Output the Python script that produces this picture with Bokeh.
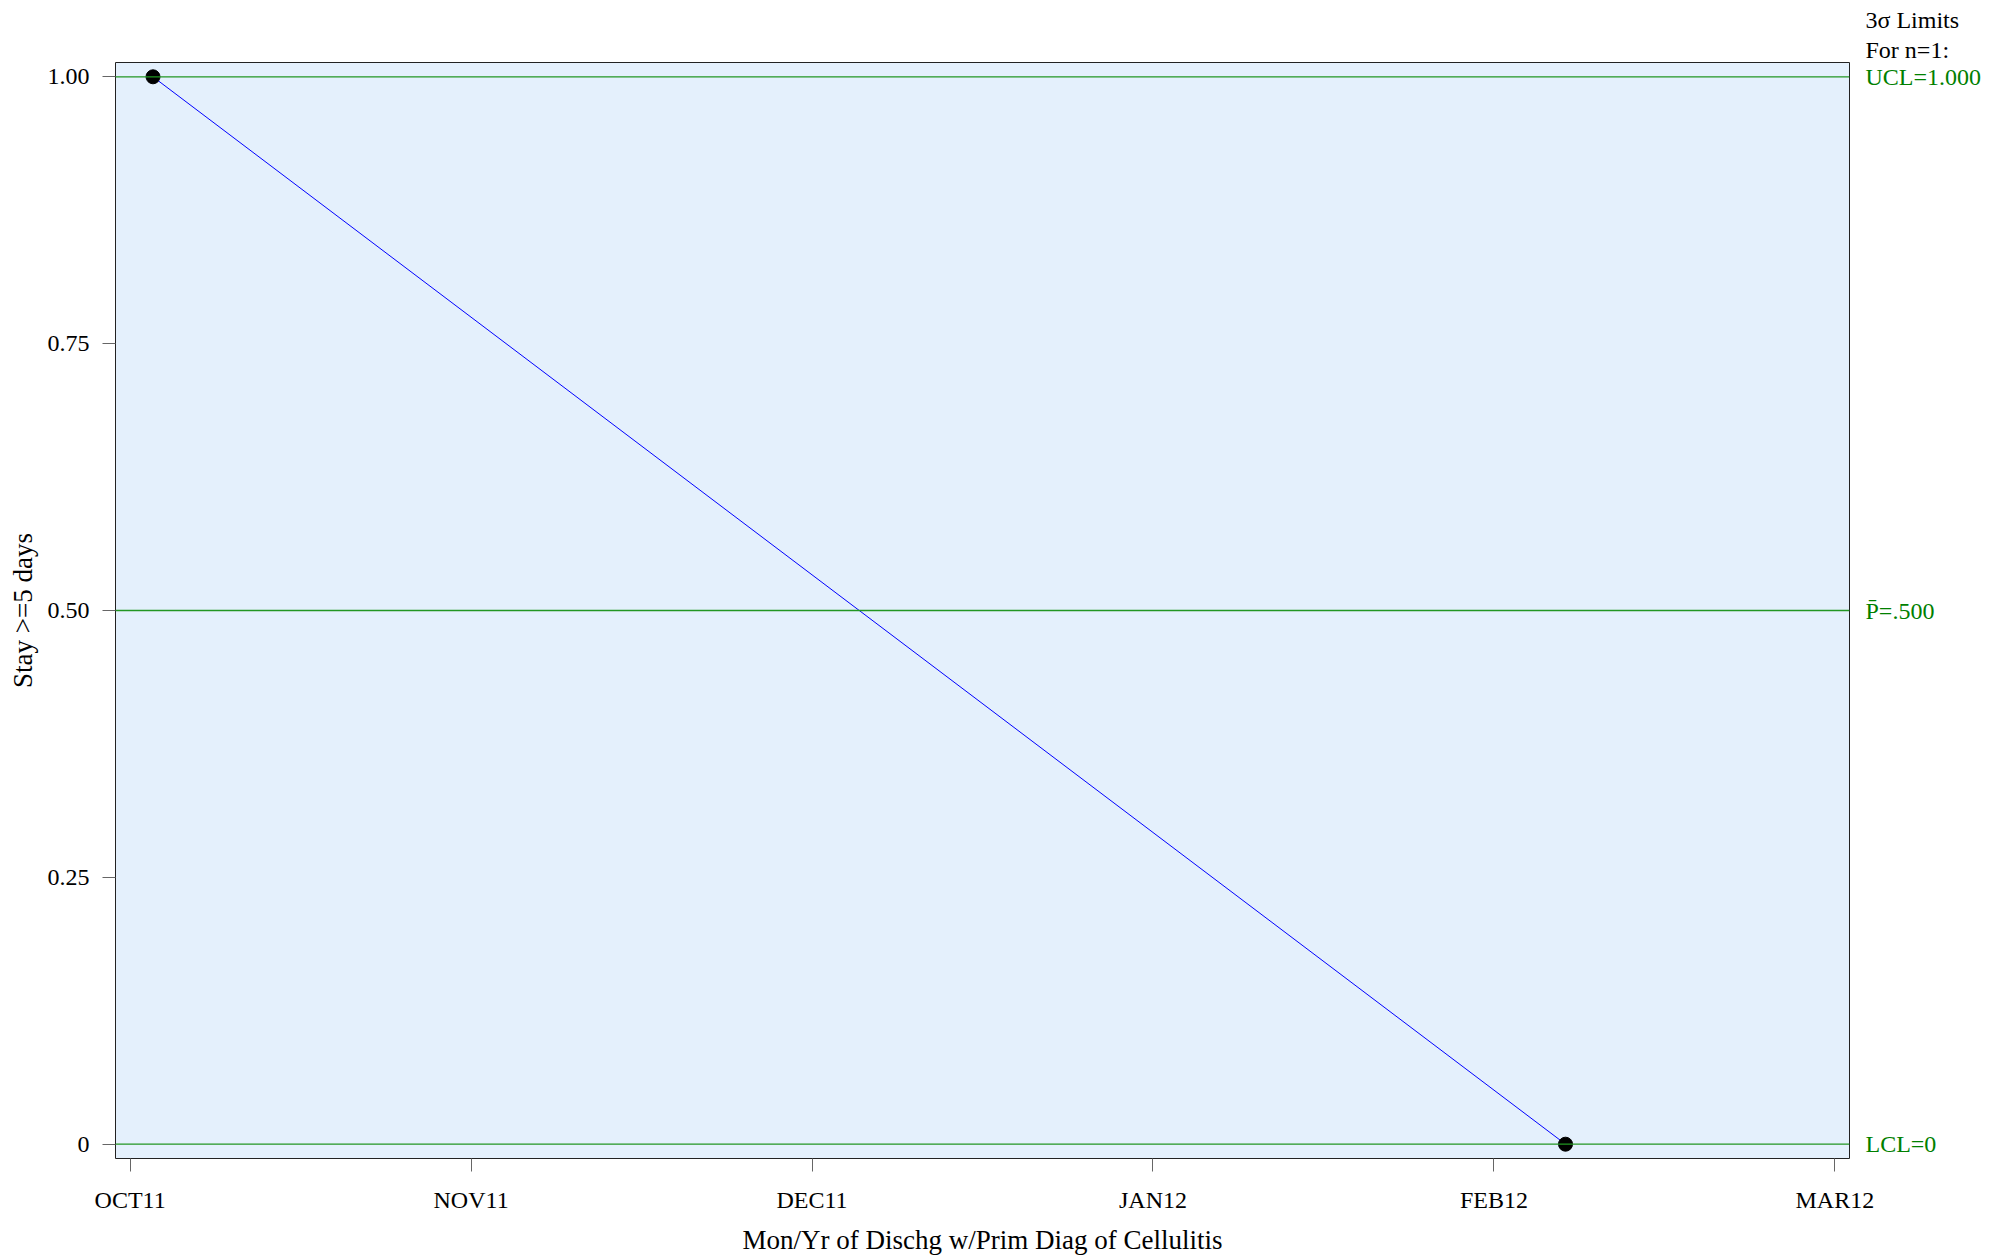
from bokeh.plotting import figure
from bokeh.models import Range1d, FixedTicker, Span, LinearAxis, Title
from bokeh.embed import file_html
from bokeh.resources import INLINE

# ---- data ----
months = ["OCT11", "NOV11", "DEC11", "JAN12", "FEB12", "MAR12"]
month_pos = [0, 1, 2, 3, 4, 5]
sample_x = [0.067, 4.21]          # subgroup positions (in month units)
proportion = [1.0, 0.0]           # Stay >= 5 days proportion
ucl = 1.0
center = 0.5
lcl = 0.0
y_ticks = [0, 0.25, 0.5, 0.75, 1.0]
y_tick_labels = ["0", "0.25", "0.50", "0.75", "1.00"]
limit_title = ["3\u03c3 Limits", "For n=1:"]
limit_labels = ["LCL=0", "P\u0304=.500", "UCL=1.000"]

FONT = "Liberation Serif"
GREEN_TXT = "#008000"
GREEN_LINE = "#229622"

x_lo, x_hi = -0.043, 5.043
y_lo, y_hi = -0.0134, 1.0134

p = figure(width=2000, height=1258, output_backend="svg", toolbar_location=None,
           x_range=Range1d(x_lo, x_hi), y_range=Range1d(y_lo, y_hi),
           min_border_left=115, min_border_right=151, min_border_top=62, min_border_bottom=100)
p.title_location = None

p.background_fill_color = "#E4F0FC"
p.border_fill_color = "white"
p.outline_line_color = "#222222"
p.outline_line_width = 1
p.grid.visible = False

# right axis carrying the control-limit labels
rax = LinearAxis(ticker=FixedTicker(ticks=[lcl, center, ucl]),
                 major_label_overrides={lcl: limit_labels[0], center: limit_labels[1], ucl: limit_labels[2]})
p.add_layout(rax, "right")

# axes
p.xaxis.ticker = FixedTicker(ticks=month_pos)
p.xaxis.major_label_overrides = {i: m for i, m in zip(month_pos, months)}
p.yaxis[0].ticker = FixedTicker(ticks=y_ticks)
p.yaxis[0].major_label_overrides = {t: l for t, l in zip(y_ticks, y_tick_labels)}
for ax in (p.xaxis[0], p.yaxis[0]):
    ax.axis_line_color = None
    ax.major_tick_line_color = "#666666"
    ax.major_tick_out = 13
    ax.major_tick_in = 0
    ax.minor_tick_line_color = None
    ax.major_label_text_font = FONT
    ax.major_label_text_font_size = "24px"
    ax.major_label_text_color = "black"
    ax.axis_label_text_font = FONT
    ax.axis_label_text_font_size = "27px"
    ax.axis_label_text_font_style = "normal"
    ax.axis_label_text_color = "black"

rax.axis_line_color = None
rax.major_tick_line_color = None
rax.minor_tick_line_color = None
rax.major_tick_out = 0
rax.major_tick_in = 0
rax.major_label_standoff = 16
rax.major_label_text_font = FONT
rax.major_label_text_font_size = "24px"
rax.major_label_text_color = GREEN_TXT

p.xaxis.axis_label = "Mon/Yr of Dischg w/Prim Diag of Cellulitis"
p.xaxis.major_label_standoff = 15
p.xaxis.axis_label_standoff = 9
p.yaxis[0].axis_label = "Stay >=5 days"
p.yaxis[0].major_label_standoff = 13
p.yaxis[0].axis_label_standoff = 7

# control limits
for val in (ucl, center, lcl):
    p.add_layout(Span(location=val, dimension="width", line_color=GREEN_LINE, line_width=1.3))

# data
p.line(sample_x, proportion, line_color="#0000FF", line_width=1)
p.scatter(sample_x, proportion, size=14, fill_color="black", line_color="black")

# limits heading (right of the frame, above it)
p.add_layout(Title(text=limit_title[1], align="left", offset=1750, standoff=0,
                   text_font=FONT, text_font_size="24px", text_font_style="normal",
                   text_color="black"), "above")
p.add_layout(Title(text=limit_title[0], align="left", offset=1750, standoff=3,
                   text_font=FONT, text_font_size="24px", text_font_style="normal",
                   text_color="black"), "above")

open("out.html", "w").write(file_html(p, INLINE))
